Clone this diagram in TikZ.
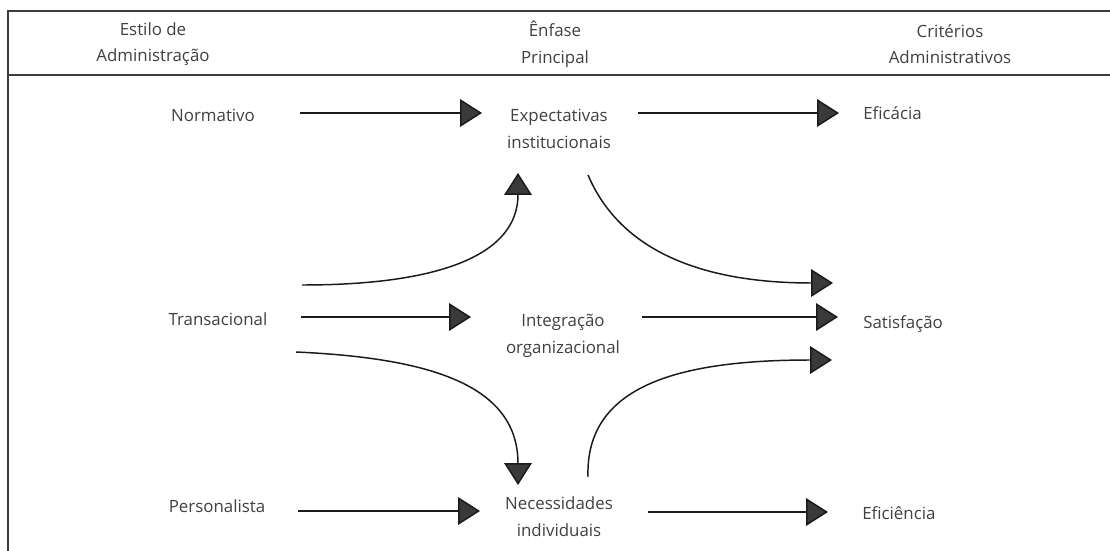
\documentclass[tikz,border=0pt]{standalone}
\usepackage{fontspec}
\setmainfont{Open Sans}
\usetikzlibrary{arrows.meta}
\definecolor{txt}{HTML}{404040}
\definecolor{ink}{HTML}{1a1a1a}
\definecolor{tipfill}{HTML}{3a3a3a}
\begin{document}
\begin{tikzpicture}[x=0.025cm,y=-0.025cm,
  lbl/.style={text=txt, font=\fontsize{12}{19}\selectfont, align=center, inner sep=0pt},
  conn/.style={draw=ink, line width=1.05pt, -{Triangle[length=15.5pt,width=19.5pt,fill=tipfill]}},
  frameline/.style={draw=ink!85, line width=1.4pt}]
\useasboundingbox (0,0) rectangle (1110,551);
% frame
\coordinate (fTL) at (8,11);
\coordinate (fBL) at (8,551);
\coordinate (fTR) at (1110,11);
\coordinate (hL) at (8,75);
\coordinate (hR) at (1110,75);
\draw[frameline] (fBL) -- (fTL) -- (fTR);
\draw[frameline] (hL) -- (hR);
% headers
\node[lbl] (h1) at (153,44) {Estilo de\\Administração};
\node[lbl] (h2) at (555,44) {Ênfase\\Principal};
\node[lbl] (h3) at (950,44) {Critérios\\Administrativos};
% column 1
\node[lbl, anchor=base] (norm) at (213,122) {Normativo};
\node[lbl, anchor=base] (trans) at (218,325) {Transacional};
\node[lbl, anchor=base] (pers) at (217,512) {Personalista};
% column 2
\node[lbl] (expe) at (559,129) {Expectativas\\institucionais};
\node[lbl] (integ) at (563,336) {Integração\\organizacional};
\node[lbl] (neces) at (559,517) {Necessidades\\individuais};
% column 3
\node[lbl, anchor=base west] (efic) at (863,120) {Eficácia};
\node[lbl, anchor=base west] (satis) at (863,328) {Satisfação};
\node[lbl, anchor=base west] (eficien) at (862,519) {Eficiência};
% connector end points
\coordinate (a1s) at (300,113);  \coordinate (a1e) at (482,113);
\coordinate (a2s) at (638,113);  \coordinate (a2e) at (839,113);
\coordinate (a3s) at (301,317);  \coordinate (a3e) at (471,317);
\coordinate (a4s) at (642,317);  \coordinate (a4e) at (838,317);
\coordinate (a5s) at (298,511);  \coordinate (a5e) at (480,511);
\coordinate (a6s) at (648,512);  \coordinate (a6e) at (828,512);
\coordinate (c1s) at (302,285);  \coordinate (c1e) at (518,173);
\coordinate (c2s) at (588,175);  \coordinate (c2e) at (833,283);
\coordinate (c3s) at (296,352);  \coordinate (c3e) at (518,485);
\coordinate (c4s) at (588,477);  \coordinate (c4e) at (832,360);
% straight arrows
\draw[conn] (a1s) -- (a1e);
\draw[conn] (a2s) -- (a2e);
\draw[conn] (a3s) -- (a3e);
\draw[conn] (a4s) -- (a4e);
\draw[conn] (a5s) -- (a5e);
\draw[conn] (a6s) -- (a6e);
% curved arrows
\draw[conn] (c1s) .. controls (440,285) and (518,255) .. (c1e);
\draw[conn] (c2s) .. controls (620,250) and (700,283) .. (c2e);
\draw[conn] (c3s) .. controls (430,358) and (518,385) .. (c3e);
\draw[conn] (c4s) .. controls (585,385) and (680,360) .. (c4e);
\end{tikzpicture}
\end{document}
